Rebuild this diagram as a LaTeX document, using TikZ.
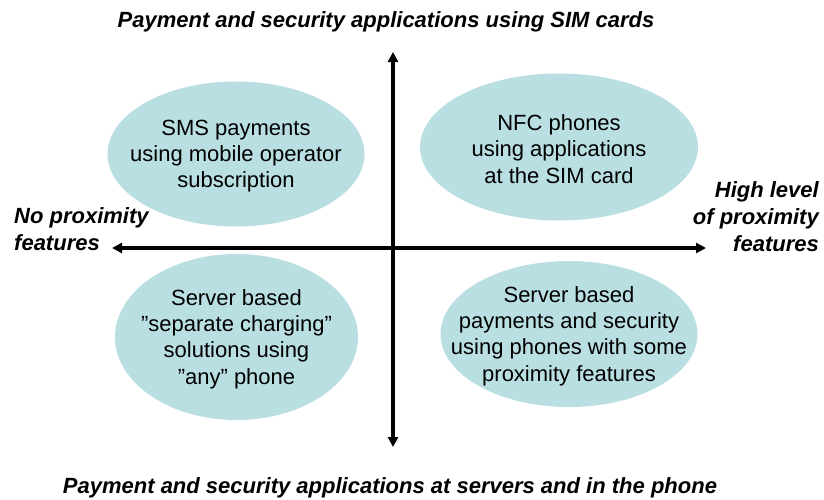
\documentclass[tikz,border=0pt]{standalone}
\usepackage{fontspec}
\setmainfont{Liberation Sans}
\usetikzlibrary{shapes.geometric,arrows.meta}
\definecolor{bubble}{RGB}{186,223,227}
\tikzset{
  bubblebox/.style={ellipse, fill=bubble, draw=none, inner sep=0pt},
  bubbletext/.style={align=center, inner sep=0pt, font=\fontsize{22}{26.3}\selectfont},
  axislabel/.style={inner sep=0pt, font=\fontsize{22}{26.8}\selectfont\bfseries\itshape},
  axisline/.style={line width=3.2pt, {Triangle[length=10pt,width=10pt]}-{Triangle[length=10pt,width=10pt]}}
}
\begin{document}
\begin{tikzpicture}[x=1pt,y=-1pt]
\useasboundingbox (0,0) rectangle (824,499);
% ellipses
\node[bubblebox, minimum width=257pt, minimum height=145pt] (e1) at (236,154) {};
\node[bubblebox, minimum width=278pt, minimum height=147pt] (e2) at (559,147) {};
\node[bubblebox, minimum width=243pt, minimum height=166pt] (e3) at (236.5,337) {};
\node[bubblebox, minimum width=257pt, minimum height=146pt] (e4) at (569,334) {};
\node[bubbletext] (t1) at (236,156) {SMS payments\\using mobile operator\\subscription};
\node[bubbletext] (t2) at (559,149) {NFC phones\\using applications\\at the SIM card};
\node[bubbletext] (t3) at (236.5,339) {Server based\\”separate charging”\\solutions using\\”any” phone};
\node[bubbletext] (t4) at (569,336) {Server based\\payments and security\\using phones with some\\proximity features};
% axes
\coordinate (vtop) at (393,52);
\coordinate (vbot) at (393,447);
\coordinate (hleft) at (112,248);
\coordinate (hright) at (706,248);
\draw[axisline] (vtop) -- (vbot);
\draw[axisline] (hleft) -- (hright);
% labels
\node[axislabel, anchor=center] (top) at (386,22) {Payment and security applications using SIM cards};
\node[axislabel, anchor=center] (bot) at (390,488) {Payment and security applications at servers and in the phone};
\node[axislabel, anchor=west, align=left] (left) at (14,229.5) {No proximity\\features};
\node[axislabel, anchor=east, align=right] (right) at (819,216.5) {High level\hspace{6pt}\\of proximity\\features};
\end{tikzpicture}
\end{document}
